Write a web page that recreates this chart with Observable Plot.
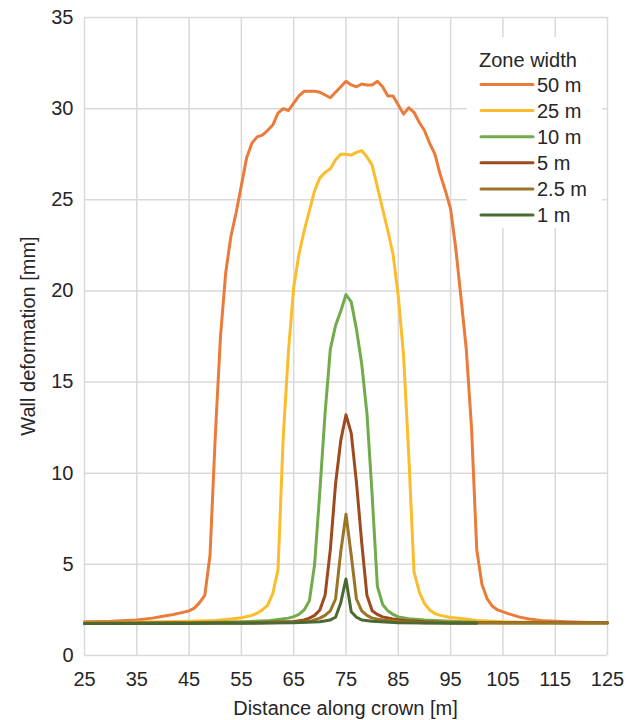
<!DOCTYPE html>
<html>
<head>
<meta charset="utf-8">
<script src="https://cdn.jsdelivr.net/npm/d3@7"></script>
<script src="https://cdn.jsdelivr.net/npm/@observablehq/plot@0.6"></script>
<style>
  body { margin: 0; background: #fff; }
  #chart { width: 637px; height: 720px; }
  #chart svg { display: block; }
</style>
</head>
<body>
<div id="chart"></div>
<script>
// Wall deformation along the crown for different weak-zone widths
const zoneLabels = ["50 m", "25 m", "10 m", "5 m", "2.5 m", "1 m"];
const zoneColors = ["#EA7B3A", "#FBBD2C", "#72AB4B", "#9E4A1E", "#9A7427", "#4A6A30"];

const dist50 = [25,30,35,38,40,42,44,45,46,47,48,49,50,51,52,53,54,55,56,57,58,59,60,61,62,63,64,65,66,67,68,69,70,71,72,73,74,75,76,77,78,79,80,81,82,83,84,85,86,87,88,89,90,91,92,93,94,95,96,97,98,99,100,101,102,103,104,106,108,110,113,117,120,125];
const def50 = [1.85,1.88,1.95,2.05,2.15,2.25,2.38,2.45,2.6,2.9,3.3,5.5,12.0,17.5,21.0,23.0,24.3,25.8,27.3,28.1,28.45,28.55,28.8,29.1,29.75,30.0,29.9,30.3,30.7,30.95,30.95,30.95,30.9,30.75,30.6,30.9,31.2,31.5,31.3,31.2,31.35,31.3,31.3,31.5,31.2,30.7,30.7,30.2,29.7,30.05,29.8,29.25,28.8,28.1,27.5,26.4,25.5,24.5,22.3,19.6,16.8,12.5,5.8,3.9,3.1,2.7,2.5,2.3,2.12,2.0,1.9,1.85,1.82,1.8];

const dist25 = [25,30,35,40,45,50,53,55,57,58,59,60,61,62,63,64,65,66,67,68,69,70,71,72,73,74,75,76,77,78,79,80,81,82,83,84,85,86,87,88,89,90,91,92,93,95,97,100,105,110,115,125];
const def25 = [1.78,1.8,1.82,1.85,1.88,1.92,2.0,2.07,2.2,2.32,2.5,2.75,3.4,4.7,12.0,16.7,20.2,22.0,23.3,24.4,25.5,26.2,26.5,26.7,27.2,27.5,27.5,27.45,27.6,27.7,27.35,26.9,25.7,24.5,23.3,22.0,19.7,16.5,11.0,4.6,3.5,2.85,2.5,2.3,2.2,2.08,2.03,1.92,1.85,1.82,1.8,1.78];

const dist10 = [25,30,35,40,45,50,55,60,62,64,65,66,67,68,69,70,71,72,73,74,75,76,77,78,79,80,81,82,83,84,85,87,90,95,100,105,110,125];
const def10 = [1.77,1.78,1.78,1.79,1.8,1.82,1.85,1.9,1.97,2.05,2.13,2.25,2.5,3.0,5.0,9.0,13.3,16.8,18.1,18.9,19.8,19.4,17.9,16.0,13.3,8.8,3.8,2.8,2.45,2.25,2.12,2.02,1.95,1.88,1.82,1.8,1.79,1.79];

const dist5 = [25,30,35,40,45,50,55,60,65,67,68,69,70,71,72,73,74,75,76,77,78,79,80,81,82,84,87,90,95,100,110,125];
const def5 = [1.77,1.77,1.77,1.78,1.78,1.79,1.8,1.82,1.87,1.95,2.05,2.2,2.5,3.3,5.8,9.4,11.8,13.2,12.2,9.5,6.2,3.3,2.45,2.25,2.12,2.0,1.9,1.85,1.8,1.79,1.79,1.79];

const dist2p5 = [25,30,35,40,45,50,55,60,65,68,70,71,72,73,74,75,76,77,78,79,80,82,85,90,95,100,110,125];
const def2p5 = [1.76,1.77,1.77,1.77,1.77,1.78,1.78,1.8,1.82,1.86,2.05,2.2,2.45,3.1,5.7,7.75,5.5,3.1,2.45,2.2,2.05,1.95,1.85,1.8,1.79,1.78,1.78,1.78];

const dist1 = [25,30,35,40,45,50,55,60,65,70,72,73,74,75,76,77,78,80,85,90,95,100];
const def1 = [1.76,1.76,1.76,1.76,1.76,1.77,1.77,1.78,1.8,1.85,1.95,2.1,2.9,4.2,2.4,2.1,1.95,1.88,1.8,1.78,1.77,1.77];

const xTicks = [25,35,45,55,65,75,85,95,105,115,125];
const yTicks = [0,5,10,15,20,25,30,35];

const seriesDist = [dist50, dist25, dist10, dist5, dist2p5, dist1];
const seriesDef = [def50, def25, def10, def5, def2p5, def1];

const rows = [];
zoneLabels.forEach((zone, i) => {
  seriesDist[i].forEach((d, j) => rows.push({zone, dist: d, def: seriesDef[i][j]}));
});

const font = "'Liberation Sans', Arial, sans-serif";
const textColor = "#262626";
const gridColor = "#d9d9d9";

const W = 637, H = 720, mL = 84, mR = 30, mT = 17, mB = 65;

const chart = Plot.plot({
  width: W,
  height: H,
  marginLeft: mL,
  marginRight: mR,
  marginTop: mT,
  marginBottom: mB,
  style: {fontFamily: font, fontSize: "20px", color: textColor, background: "#fff"},
  x: {domain: [25, 125], label: null},
  y: {domain: [0, 35], label: null},
  color: {domain: zoneLabels, range: zoneColors},
  marks: [
    Plot.ruleX(xTicks, {stroke: gridColor, strokeWidth: 1.5}),
    Plot.ruleY(yTicks, {stroke: gridColor, strokeWidth: 1.5}),
    Plot.axisX({ticks: xTicks, tickSize: 0, tickPadding: 16, label: null, fill: textColor}),
    Plot.axisY({ticks: yTicks, tickSize: 0, tickPadding: 11, label: null, fill: textColor}),
    Plot.line(rows, {
      x: "dist", y: "def", z: "zone", stroke: "zone",
      strokeWidth: 3, strokeLinejoin: "round", strokeLinecap: "round"
    })
  ]
});

document.getElementById("chart").appendChild(chart);

const svg = d3.select(chart);

// Axis titles
svg.append("text")
  .attr("x", (mL + W - mR) / 2)
  .attr("y", 708)
  .attr("text-anchor", "middle")
  .attr("dominant-baseline", "central")
  .attr("font-family", font)
  .attr("font-size", 20)
  .attr("fill", textColor)
  .text("Distance along crown [m]");

svg.append("text")
  .attr("transform", `translate(28,${(mT + H - mB) / 2}) rotate(-90)`)
  .attr("text-anchor", "middle")
  .attr("dominant-baseline", "central")
  .attr("font-family", font)
  .attr("font-size", 20)
  .attr("fill", textColor)
  .text("Wall deformation [mm]");

// Legend inside the plot area
const legend = svg.append("g").attr("text-anchor", "start");
legend.append("rect")
  .attr("x", 467).attr("y", 37)
  .attr("width", 135).attr("height", 191)
  .attr("fill", "#fff");
legend.append("text")
  .attr("x", 479).attr("y", 60)
  .attr("text-anchor", "start")
  .attr("dominant-baseline", "central")
  .attr("font-family", font).attr("font-size", 20)
  .attr("fill", textColor)
  .text("Zone width");
zoneLabels.forEach((zone, i) => {
  const cy = 84.5 + i * 26.1;
  legend.append("line")
    .attr("x1", 481).attr("x2", 533)
    .attr("y1", cy).attr("y2", cy)
    .attr("stroke", zoneColors[i])
    .attr("stroke-width", 3)
    .attr("stroke-linecap", "round");
  legend.append("text")
    .attr("x", 537).attr("y", cy)
    .attr("text-anchor", "start")
    .attr("dominant-baseline", "central")
    .attr("font-family", font).attr("font-size", 20)
    .attr("fill", textColor)
    .text(zone);
});
</script>
</body>
</html>
